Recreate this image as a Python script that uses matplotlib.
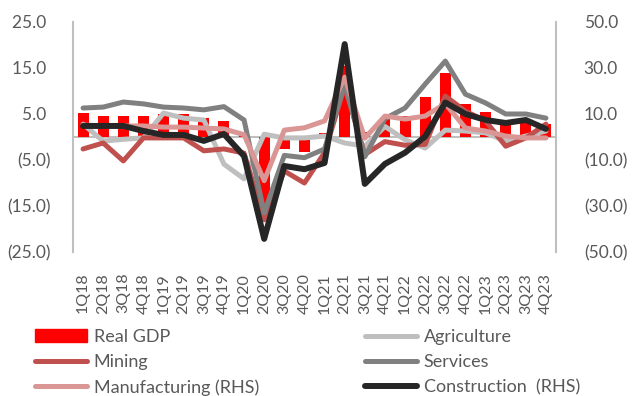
import matplotlib
matplotlib.use('Agg')
import matplotlib.pyplot as plt
from matplotlib.lines import Line2D
from matplotlib.patches import Patch
import numpy as np

plt.rcParams['font.family'] = ['Lato', 'DejaVu Sans']

quarters = ['1Q18', '2Q18', '3Q18', '4Q18', '1Q19', '2Q19', '3Q19', '4Q19',
            '1Q20', '2Q20', '3Q20', '4Q20', '1Q21', '2Q21', '3Q21', '4Q21',
            '1Q22', '2Q22', '3Q22', '4Q22', '1Q23', '2Q23', '3Q23', '4Q23']

# left axis (%)
real_gdp = [5.2, 4.6, 4.5, 4.6, 5.0, 5.0, 4.1, 3.5, 0.5, -18.0, -2.6, -3.3,
            0.8, 15.5, 1.0, 4.0, 4.6, 8.7, 13.9, 7.2, 5.4, 3.5, 3.5, 2.8]
agriculture = [2.8, -0.9, -0.5, -0.2, 5.2, 4.1, 3.7, -5.9, -9.1, 0.6, -0.2, -0.2,
               0.2, -1.3, -2.0, 2.3, -0.6, -2.4, 1.5, 1.3, 0.9, -0.9, 0.2, 1.3]
mining = [-2.6, -1.3, -5.2, -0.2, -0.2, -0.2, -3.0, -2.6, -3.5, -18.0, -7.4, -10.0,
          -3.4, 11.0, -3.8, -1.0, -1.8, -1.6, 8.9, 5.6, 3.5, -2.0, -0.2, 2.8]
services = [6.3, 6.5, 7.6, 7.2, 6.5, 6.3, 5.9, 6.6, 3.7, -16.5, -4.0, -4.5,
            -2.6, 11.6, -4.3, 4.0, 6.3, 11.5, 16.5, 9.3, 7.4, 5.0, 5.0, 4.1]

# right axis (%)
manufacturing = [5.2, 4.8, 4.8, 4.8, 4.3, 4.3, 3.9, 3.5, 1.0, -19.0, 3.0, 4.0,
                 7.0, 26.0, -0.5, 9.1, 7.8, 9.1, 14.5, 3.9, 2.6, 0.4, -0.4, -0.4]
construction = [4.8, 4.8, 4.8, 2.6, 0.9, 0.9, -1.7, 1.3, -8.3, -44.3, -12.6, -14.0,
                -11.3, 40.4, -20.4, -11.7, -6.8, 0.2, 15.0, 10.0, 7.4, 6.1, 7.4, 3.5]

left_ticks = [25, 15, 5, -5, -15, -25]
right_ticks = [50, 30, 10, -10, -30, -50]

c_gdp = '#FF0000'
c_agri = '#BFBFBF'
c_mining = '#C0504D'
c_serv = '#808080'
c_manuf = '#DA9694'
c_constr = '#262626'
c_text = '#595959'
c_axis = '#BFBFBF'


def fmt(v):
    # accounting style: negatives in brackets, positives padded
    return '({:.1f})'.format(abs(v)) if v < 0 else '{:.1f} '.format(v)


line_kw = dict(lw=3.6, solid_joinstyle='round', solid_capstyle='round')

fig = plt.figure(figsize=(6.32, 3.96), dpi=100)
ax = fig.add_axes([73 / 632, 1 - 252 / 396, 483 / 632, 230 / 396])
x = np.arange(len(quarters))

ax.bar(x, real_gdp, width=0.55, color=c_gdp, zorder=2)
ax.axhline(0, color=c_axis, lw=1.5, zorder=1)
ax.plot(x, agriculture, color=c_agri, zorder=3, **line_kw)
ax.plot(x, mining, color=c_mining, zorder=3, **line_kw)
ax.plot(x, services, color=c_serv, zorder=3, **line_kw)

ax.set_xlim(-0.5, len(quarters) - 0.5)
ax.set_ylim(-25, 25)
ax.set_yticks(left_ticks)
ax.set_yticklabels([fmt(v) for v in left_ticks])
ax.set_xticks(x)
ax.set_xticklabels(quarters, rotation=90, va='top', ha='center')
ax.tick_params(axis='y', length=0, pad=16, labelsize=12.5, labelcolor=c_text)
ax.tick_params(axis='x', length=0, pad=15, labelsize=11.5, labelcolor=c_text)
for s in ['top', 'bottom', 'right']:
    ax.spines[s].set_visible(False)
ax.spines['left'].set_color(c_axis)
ax.spines['left'].set_linewidth(1.5)

ax2 = ax.twinx()
ax2.plot(x, manufacturing, color=c_manuf, zorder=3, **line_kw)
ax2.plot(x, construction, color=c_constr, zorder=4, lw=4.3,
         solid_joinstyle='round', solid_capstyle='round')
ax2.set_ylim(-50, 50)
ax2.set_yticks(right_ticks)
ax2.set_yticklabels([fmt(v).strip() for v in right_ticks])
ax2.tick_params(axis='y', length=0, pad=20, labelsize=12.5, labelcolor=c_text)
for s in ['top', 'bottom', 'left']:
    ax2.spines[s].set_visible(False)
ax2.spines['right'].set_color(c_axis)
ax2.spines['right'].set_linewidth(1.5)


def handle(color, lw=3.6):
    return Line2D([], [], color=color, lw=lw, solid_capstyle='round')


leg_kw = dict(loc='upper left', frameon=False, borderpad=0, borderaxespad=0,
              handlelength=2.9, handletextpad=0.35, labelspacing=0.5,
              fontsize=13, labelcolor=c_text)

fig.legend(handles=[Patch(color=c_gdp), handle(c_mining), handle(c_manuf)],
           labels=['Real GDP', 'Mining', 'Manufacturing (RHS)'],
           bbox_to_anchor=(35 / 632, 1 - 329 / 396), **leg_kw)
fig.legend(handles=[handle(c_agri), handle(c_serv), handle(c_constr, 4.3)],
           labels=['Agriculture', 'Services', 'Construction  (RHS)'],
           bbox_to_anchor=(365 / 632, 1 - 329 / 396), **leg_kw)

fig.savefig('out.png', dpi=100)
